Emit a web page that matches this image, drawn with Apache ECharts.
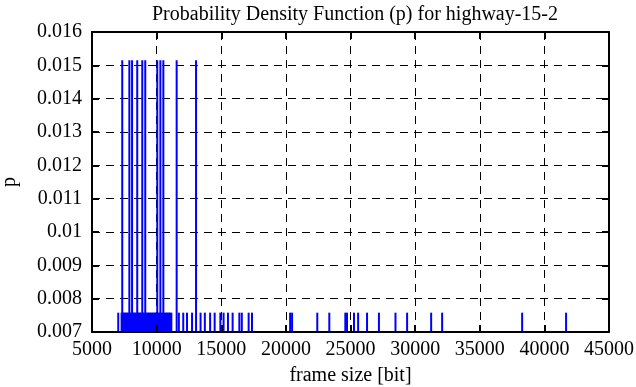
<!DOCTYPE html>
<html>
<head>
<meta charset="utf-8">
<script src="https://cdn.jsdelivr.net/npm/echarts@6/dist/echarts.min.js"></script>
<style>
html,body{margin:0;padding:0;background:#fff;}
#c{width:636px;height:387px;}
</style>
</head>
<body>
<div id="c"></div>
<script>
// Frame sizes [bit] whose probability is 2/132 (tall impulses)
const tallSizes = [7340, 7890, 8100, 8500, 8890, 9120, 10050, 10290, 10520, 11550, 13050];
// Frame sizes [bit] whose probability is 1/132 (short impulses)
const shortSizes = [
  7030, 7290, 7400, 7470, 7560, 7650, 7730, 7810, 7960, 8050, 8180, 8260, 8350, 8430,
  8570, 8640, 8730, 8810, 8960, 9040, 9190, 9270, 9350, 9440, 9520, 9610, 9700, 9780,
  9870, 9950, 10130, 10210, 10370, 10450, 10610, 10700, 10790, 10870, 10960, 11050, 11140,
  11720, 12060, 12350, 12740, 13400, 13730, 14140, 14490, 14930, 15180, 15520, 15880,
  16400, 16590, 17120, 17380, 20330, 20480, 22430, 23360, 24600, 24730, 25270, 25590,
  26280, 27200, 28480, 29380, 31240, 32090, 38280, 41680
];
// probability levels
const pLevels = [0.01515, 0.00758];
// axis ticks
const xTicks = [5000, 10000, 15000, 20000, 25000, 30000, 35000, 40000, 45000];
const yTicks = [0.007, 0.008, 0.009, 0.01, 0.011, 0.012, 0.013, 0.014, 0.015, 0.016];

const FONT = 'Liberation Serif';
const FS = 20;
const xMin = xTicks[0], xMax = xTicks[xTicks.length - 1];
const yMin = yTicks[0], yMax = yTicks[yTicks.length - 1];

const data = tallSizes.map(s => [s, pLevels[0]]).concat(shortSizes.map(s => [s, pLevels[1]]));

const gridRect = {left: 92, right: 27, top: 32, bottom: 55, containLabel: false, outerBoundsMode: 'none'};

function frameX(pos) {
  return {
    type: 'value', gridIndex: 1, position: pos, min: xMin, max: xMax, interval: 5000, z: 10,
    axisLine: {show: true, onZero: false, lineStyle: {color: '#000', width: 2}},
    axisTick: {show: true, inside: true, length: 7, lineStyle: {color: '#000', width: 2}},
    axisLabel: {show: false}, splitLine: {show: false}
  };
}
function frameY(pos) {
  return {
    type: 'value', gridIndex: 1, position: pos, min: yMin, max: yMax, interval: 0.001, z: 10,
    axisLine: {show: true, onZero: false, lineStyle: {color: '#000', width: 2}},
    axisTick: {show: true, inside: true, length: 7, lineStyle: {color: '#000', width: 2}},
    axisLabel: {show: false}, splitLine: {show: false}
  };
}

const chart = echarts.init(document.getElementById('c'), null, {renderer: 'canvas'});
chart.setOption({
  animation: false,
  backgroundColor: '#fff',
  title: {
    text: 'Probability Density Function (p) for highway-15-2',
    left: 350, top: 0, textAlign: 'center',
    textStyle: {fontFamily: FONT, fontSize: FS, fontWeight: 'normal', color: '#000'}
  },
  grid: [Object.assign({}, gridRect), Object.assign({}, gridRect)],
  xAxis: [
    {
      type: 'value', gridIndex: 0, position: 'bottom', min: xMin, max: xMax, interval: 5000,
      name: 'frame size [bit]', nameLocation: 'middle', nameGap: 34,
      nameTextStyle: {fontFamily: FONT, fontSize: FS, color: '#000'},
      axisLine: {show: false, onZero: false}, axisTick: {show: false},
      axisLabel: {fontFamily: FONT, fontSize: FS, color: '#000', margin: 8, formatter: v => String(v)},
      splitLine: {show: true, lineStyle: {color: '#000', width: 1, type: [8, 6]}}
    },
    frameX('bottom'), frameX('top')
  ],
  yAxis: [
    {
      type: 'value', gridIndex: 0, position: 'left', min: yMin, max: yMax, interval: 0.001,
      name: 'p', nameLocation: 'middle', nameGap: 72,
      nameTextStyle: {fontFamily: FONT, fontSize: FS, color: '#000'},
      axisLine: {show: false, onZero: false}, axisTick: {show: false},
      axisLabel: {fontFamily: FONT, fontSize: FS, color: '#000', margin: 10, formatter: v => String(+v.toFixed(3))},
      splitLine: {show: true, lineStyle: {color: '#000', width: 1, type: [8, 6]}}
    },
    frameY('left'), frameY('right')
  ],
  series: [{
    type: 'custom',
    xAxisIndex: 0, yAxisIndex: 0,
    data: data,
    clip: true,
    renderItem: function (params, api) {
      const x = api.value(0), y = api.value(1);
      const top = api.coord([x, y]);
      const bot = api.coord([x, yMin]);
      return {
        type: 'line',
        shape: {x1: top[0], y1: top[1], x2: bot[0], y2: bot[1]},
        style: {stroke: '#0000ff', lineWidth: 2}
      };
    }
  }]
});
</script>
</body>
</html>
